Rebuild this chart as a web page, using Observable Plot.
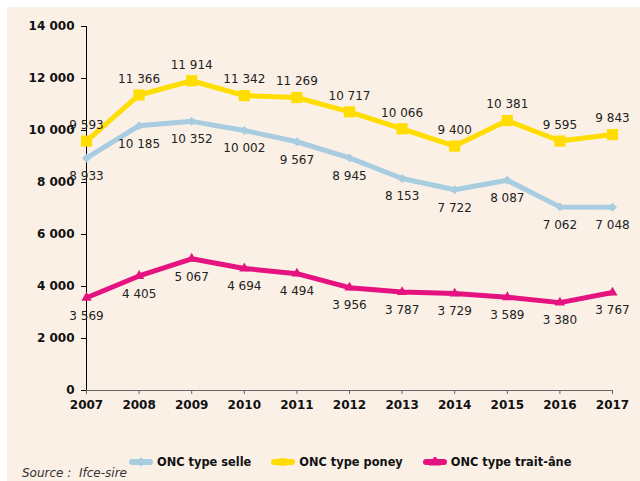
<!DOCTYPE html>
<html>
<head>
<meta charset="utf-8">
<script src="https://cdn.jsdelivr.net/npm/d3@7"></script>
<script src="https://cdn.jsdelivr.net/npm/@observablehq/plot@0.6"></script>
<style>
  html, body { margin: 0; padding: 0; background: #ffffff; }
  #wrap { position: relative; width: 640px; height: 481px; overflow: hidden; background: #ffffff; font-family: "DejaVu Sans", sans-serif; }
  #cream { position: absolute; left: 7px; top: 7px; right: 0; bottom: 0; background: #fbf0e6; }
  #chart { position: absolute; left: 0; top: 0; }
  #legend { position: absolute; left: 129px; top: 455px; height: 14px; display: flex; align-items: center; font-weight: bold; font-size: 11.4px; color: #111; white-space: nowrap; }
  .item { display: flex; align-items: center; margin-right: 20px; }
  .item svg { margin-right: 4px; display: block; }
  #source { position: absolute; left: 22px; top: 467px; font-size: 12px; line-height: 13px; font-style: italic; color: #333; white-space: nowrap; }
</style>
</head>
<body>
<div id="wrap">
  <div id="cream"></div>
  <div id="chart"></div>
  <div id="legend"></div>
  <div id="source">Source :&nbsp; Ifce-sire</div>
</div>
<script>
const years = [2007, 2008, 2009, 2010, 2011, 2012, 2013, 2014, 2015, 2016, 2017];
const selle = [8933, 10185, 10352, 10002, 9567, 8945, 8153, 7722, 8087, 7062, 7048];
const poney = [9593, 11366, 11914, 11342, 11269, 10717, 10066, 9400, 10381, 9595, 9843];
const traitAne = [3569, 4405, 5067, 4694, 4494, 3956, 3787, 3729, 3589, 3380, 3767];
const yTicks = [0, 2000, 4000, 6000, 8000, 10000, 12000, 14000];
const seriesNames = ["ONC type selle", "ONC type poney", "ONC type trait-âne"];
const seriesColors = ["#a8cce0", "#ffdd00", "#e4137f"];
const seriesSymbols = ["diamond2", "square", "triangle"];

const fmt = d => d3.format(",")(d).replace(/,/g, " ");

const allSeries = [selle, poney, traitAne].map((vals, i) => ({
  name: seriesNames[i],
  color: seriesColors[i],
  symbol: seriesSymbols[i],
  rows: years.map((y, j) => ({ year: y, value: vals[j] }))
}));

const labelDy = [18, -16, 18];
const symbolR = [4, 6.3, 3.8];

const marks = [
  Plot.ruleY([0], { stroke: "#666", strokeWidth: 1 }),
  Plot.axisX({ ticks: years, tickSize: 4, tickPadding: 6, tickFormat: d => String(d), fontWeight: "bold", fontSize: 12, label: null, stroke: "#666", fill: "#111" }),
  Plot.axisY({ ticks: yTicks, tickSize: 5, tickPadding: 7, tickFormat: fmt, fontWeight: "bold", fontSize: 12, label: null, stroke: "#000", fill: "#111" }),
  Plot.ruleX([2007], { stroke: "#000", strokeWidth: 1 })
];

allSeries.forEach((s, i) => {
  marks.push(Plot.line(s.rows, { x: "year", y: "value", stroke: s.color, strokeWidth: 5, strokeLinejoin: "round", strokeLinecap: "butt" }));
  marks.push(Plot.dot(s.rows, { x: "year", y: "value", symbol: () => s.symbol, r: symbolR[i], fill: s.color, stroke: "none" }));
});
allSeries.forEach((s, i) => {
  marks.push(Plot.text(s.rows, { x: "year", y: "value", text: d => fmt(d.value), dy: labelDy[i], fill: "#222", fontSize: 12 }));
});

const chart = Plot.plot({
  width: 640,
  height: 440,
  marginLeft: 86,
  marginRight: 28,
  marginTop: 26,
  marginBottom: 50,
  style: { background: "transparent", fontFamily: "DejaVu Sans, sans-serif", fontSize: "12px", color: "#111", overflow: "visible" },
  x: { domain: [2007, 2017] },
  y: { domain: [0, 14000] },
  symbol: { type: "identity" },
  marks
});
document.getElementById("chart").appendChild(chart);

// Legend
const legend = d3.select("#legend");
allSeries.forEach((s, i) => {
  const item = legend.append("div").attr("class", "item");
  const svg = item.append("svg").attr("width", 24).attr("height", 10);
  svg.append("line").attr("x1", 3).attr("x2", 21).attr("y1", 5).attr("y2", 5)
    .attr("stroke", s.color).attr("stroke-width", 6).attr("stroke-linecap", "round");
  const sym = { "diamond2": d3.symbolDiamond2, "square": d3.symbolSquare, "triangle": d3.symbolTriangle }[s.symbol];
  svg.append("path").attr("transform", "translate(12,5)")
    .attr("d", d3.symbol(sym, 60)()).attr("fill", s.color);
  item.append("span").text(s.name);
});
</script>
</body>
</html>
